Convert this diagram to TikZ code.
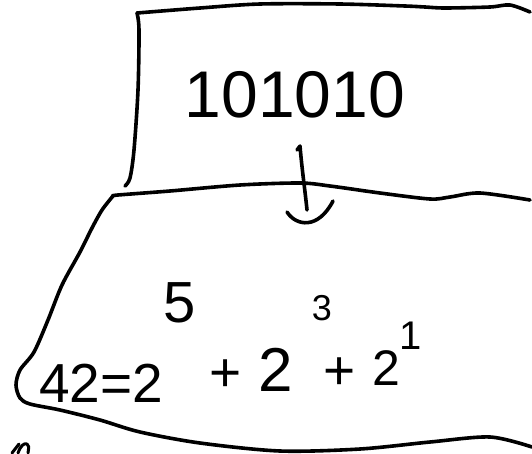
\documentclass[tikz,border=0pt]{standalone}
\usepackage{fontspec}
\setmainfont{Liberation Sans}
\begin{document}
\begin{tikzpicture}[x=1pt,y=-1pt,
  ink/.style={line width=3.6pt,line cap=round,line join=round,black},
  hand/.style={inner sep=0pt,anchor=base,text=black}]
\useasboundingbox (0,0) rectangle (532,453);
% top box
\draw[ink] plot[smooth,tension=0.5] coordinates {(137,13) (200,8) (260,4) (340,4) (405,6) (425,7) (445,8) (490,7) (510,5) (530,12)};
\draw[ink] plot[smooth,tension=0.5] coordinates {(137,13) (139,30) (138,90) (134,150) (130,178) (125,186)};
% middle line
\draw[ink] plot[smooth,tension=0.5] coordinates {(113,196) (118,195) (170,191) (240,185) (300,183) (330,186) (380,193) (430,199) (450,197) (480,193) (530,200)};
% bottom shape
\draw[ink] plot[smooth,tension=0.5] coordinates {(113,196) (102,210) (92,228) (80,252) (62,285) (48,320) (34,352) (20,370) (16,385) (20,398) (30,404) (60,410) (100,420) (140,432) (200,443) (280,451) (360,449) (430,442) (490,437) (532,447)};
% text
\node[hand,font=\fontsize{66}{66}\selectfont] (bin) at (295,117) {101010};
% arrow
\coordinate (s) at (300,146);
\coordinate (e) at (307,210);
\draw[ink] (297,150) -- (s) .. controls (302,170) and (305,190) .. (e);
\draw[ink] (287,212) coordinate (hl) .. controls (296,226) and (318,230) .. (333,201) coordinate (hr);
% equation
\node[hand,font=\fontsize{55}{55}\selectfont] (lhs) at (101,402) {42=2};
\node[hand,font=\fontsize{58}{58}\selectfont] (e5) at (180,322) {5};
\node[hand,font=\fontsize{55}{55}\selectfont] (p1) at (226,391) {+};
\node[hand,font=\fontsize{62}{62}\selectfont] (t2) at (276,391) {2};
\node[hand,font=\fontsize{36}{36}\selectfont] (e3) at (322,320) {3};
\node[hand,font=\fontsize{55}{55}\selectfont] (p2) at (340,389) {+};
\node[hand,font=\fontsize{50}{50}\selectfont] (t3) at (386,385) {2};
\node[hand,font=\fontsize{40}{40}\selectfont] (e1) at (411,349) {1};
% cut-off mark
\draw[ink,line width=3pt] (12,453) -- (19,444) (18,453) .. controls (21,445) and (24,443) .. (27,444) .. controls (29,446) .. (28,453);
\end{tikzpicture}
\end{document}
